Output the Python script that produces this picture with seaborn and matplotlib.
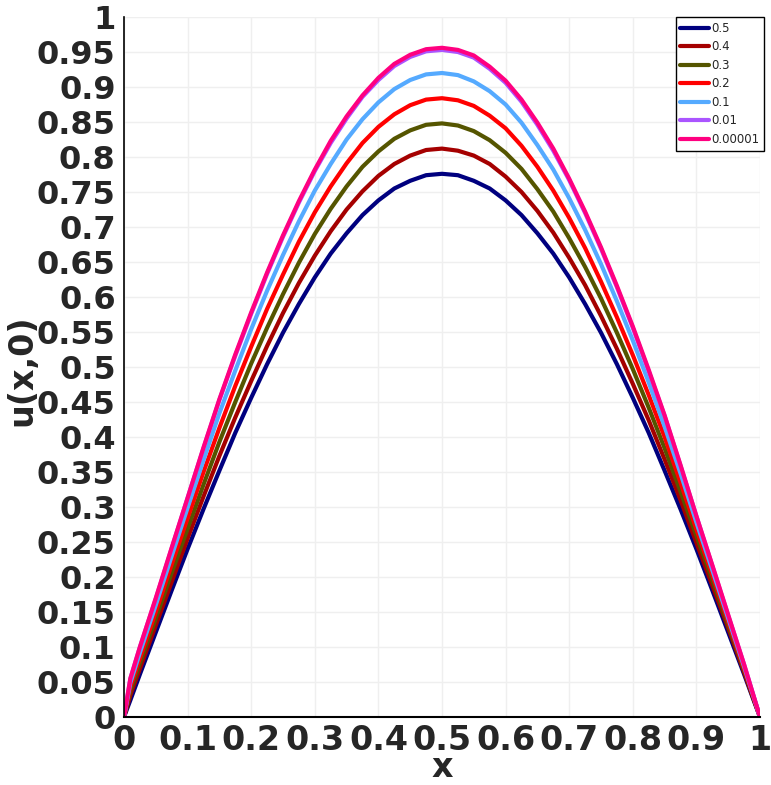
import matplotlib
matplotlib.use('Agg')
import matplotlib.pyplot as plt
import seaborn as sns
import pandas as pd

# sample positions along x (denser spacing so the arches stay smooth)
x_vals = [0, 0.01, 0.025, 0.05, 0.075, 0.1, 0.125, 0.15, 0.175, 0.2, 0.225, 0.25, 0.275,
          0.3, 0.325, 0.35, 0.375, 0.4, 0.425, 0.45, 0.475, 0.5, 0.525, 0.55, 0.575,
          0.6, 0.625, 0.65, 0.675, 0.7, 0.725, 0.75, 0.775, 0.8, 0.825, 0.85, 0.875,
          0.9, 0.925, 0.95, 0.975, 0.99, 1]

# u(x,0), one list per parameter value
u_05 = [0, 0.024, 0.061, 0.121, 0.181, 0.240, 0.297, 0.352, 0.406, 0.456, 0.504, 0.549,
        0.590, 0.628, 0.662, 0.691, 0.717, 0.738, 0.755, 0.766, 0.774, 0.776, 0.774,
        0.766, 0.755, 0.738, 0.717, 0.691, 0.662, 0.628, 0.590, 0.549, 0.504, 0.456,
        0.406, 0.352, 0.297, 0.240, 0.181, 0.121, 0.061, 0.024, 0]
u_04 = [0, 0.031, 0.069, 0.131, 0.193, 0.255, 0.315, 0.373, 0.428, 0.480, 0.530, 0.577,
        0.620, 0.659, 0.694, 0.725, 0.751, 0.773, 0.790, 0.802, 0.810, 0.812, 0.809,
        0.802, 0.790, 0.772, 0.750, 0.723, 0.692, 0.656, 0.617, 0.573, 0.526, 0.476,
        0.424, 0.368, 0.310, 0.249, 0.188, 0.127, 0.064, 0.025, 0]
u_03 = [0, 0.037, 0.077, 0.141, 0.206, 0.269, 0.332, 0.393, 0.450, 0.505, 0.556, 0.604,
        0.649, 0.690, 0.726, 0.758, 0.786, 0.808, 0.826, 0.838, 0.846, 0.848, 0.845,
        0.837, 0.824, 0.806, 0.783, 0.754, 0.722, 0.684, 0.643, 0.598, 0.549, 0.497,
        0.442, 0.384, 0.322, 0.259, 0.196, 0.131, 0.067, 0.027, 0]
u_02 = [0, 0.043, 0.084, 0.150, 0.218, 0.284, 0.350, 0.413, 0.473, 0.529, 0.583, 0.632,
        0.679, 0.721, 0.758, 0.791, 0.820, 0.843, 0.861, 0.874, 0.882, 0.884, 0.881,
        0.873, 0.859, 0.841, 0.816, 0.786, 0.752, 0.713, 0.670, 0.622, 0.571, 0.517,
        0.460, 0.400, 0.335, 0.268, 0.203, 0.136, 0.069, 0.028, 0]
u_01 = [0, 0.049, 0.092, 0.160, 0.230, 0.299, 0.367, 0.434, 0.495, 0.554, 0.609, 0.660,
        0.708, 0.752, 0.790, 0.825, 0.854, 0.878, 0.897, 0.910, 0.918, 0.920, 0.917,
        0.908, 0.894, 0.875, 0.849, 0.817, 0.782, 0.741, 0.696, 0.647, 0.594, 0.538,
        0.478, 0.415, 0.348, 0.278, 0.210, 0.141, 0.072, 0.029, 0]
u_001 = [0, 0.055, 0.100, 0.169, 0.241, 0.313, 0.384, 0.453, 0.516, 0.576, 0.633, 0.686,
         0.735, 0.780, 0.820, 0.855, 0.886, 0.910, 0.930, 0.943, 0.951, 0.953, 0.950,
         0.942, 0.926, 0.906, 0.879, 0.846, 0.809, 0.767, 0.720, 0.669, 0.614, 0.556,
         0.494, 0.430, 0.359, 0.287, 0.216, 0.145, 0.075, 0.030, 0]
u_000001 = [0, 0.055, 0.100, 0.170, 0.242, 0.313, 0.385, 0.454, 0.518, 0.578, 0.635, 0.688,
            0.737, 0.782, 0.823, 0.858, 0.888, 0.913, 0.933, 0.946, 0.954, 0.956, 0.953,
            0.945, 0.929, 0.909, 0.882, 0.849, 0.812, 0.769, 0.722, 0.671, 0.616, 0.558,
            0.496, 0.431, 0.360, 0.287, 0.217, 0.146, 0.075, 0.030, 0]

labels = ['0.5', '0.4', '0.3', '0.2', '0.1', '0.01', '0.00001']
series = [u_05, u_04, u_03, u_02, u_01, u_001, u_000001]
colors = ['#00007f', '#a50000', '#555500', '#ff0000', '#55aaff', '#aa55ff', '#ff0080']

x_ticks = [0, 0.1, 0.2, 0.3, 0.4, 0.5, 0.6, 0.7, 0.8, 0.9, 1]
y_ticks = [0, 0.05, 0.1, 0.15, 0.2, 0.25, 0.3, 0.35, 0.4, 0.45, 0.5,
           0.55, 0.6, 0.65, 0.7, 0.75, 0.8, 0.85, 0.9, 0.95, 1]

df = pd.concat([pd.DataFrame({'x': x_vals, 'u': s, 'eps': lab})
                for s, lab in zip(series, labels)], ignore_index=True)

sns.set_style('whitegrid', {'grid.color': '#efefef', 'axes.edgecolor': 'black'})
plt.rcParams['font.family'] = ['DejaVu Sans']

fig = plt.figure(figsize=(7.71, 7.85), dpi=100)
ax = fig.add_axes([124 / 771, 68 / 785, 636 / 771, 700 / 785])

sns.lineplot(data=df, x='x', y='u', hue='eps', hue_order=labels,
             palette=dict(zip(labels, colors)), linewidth=3,
             estimator=None, sort=False, ax=ax)

ax.set_xlim(0, 1)
ax.set_ylim(0, 1)
ax.set_xticks(x_ticks)
ax.set_yticks(y_ticks)
ax.set_xticklabels([f'{v:g}' for v in x_ticks], fontsize=24, fontweight='bold')
ax.set_yticklabels([f'{v:g}' for v in y_ticks], fontsize=23, fontweight='bold')
ax.tick_params(axis='both', direction='out', length=5, width=1.2, color='black', pad=1)
ax.tick_params(axis='x', pad=0)
ax.grid(True, color='#efefef', linewidth=1)

for side in ['top', 'right']:
    ax.spines[side].set_visible(False)
ax.spines['left'].set_color('black')
ax.spines['left'].set_linewidth(1.2)
ax.spines['bottom'].set_color('black')
ax.spines['bottom'].set_linewidth(1.5)

ax.set_xlabel('x', fontsize=24, fontweight='bold', va='baseline')
ax.xaxis.set_label_coords(0.5, (785 - 777 - 68) / 700)
ax.set_ylabel('u(x,0)', fontsize=24, fontweight='bold', va='center')
ax.yaxis.set_label_coords((22 - 124) / 636, 0.496)

leg = ax.legend(loc='upper right', bbox_to_anchor=(764 / 771, 1 - 17 / 785),
                bbox_transform=fig.transFigure, borderaxespad=0, fontsize=8.5,
                frameon=True, fancybox=False, edgecolor='black', framealpha=1,
                handlelength=2.4, handletextpad=0.2, labelspacing=0.47,
                borderpad=0.4)
leg.get_frame().set_linewidth(1)
for line in leg.get_lines():
    line.set_linewidth(3)

fig.savefig('out.png', dpi=100)
